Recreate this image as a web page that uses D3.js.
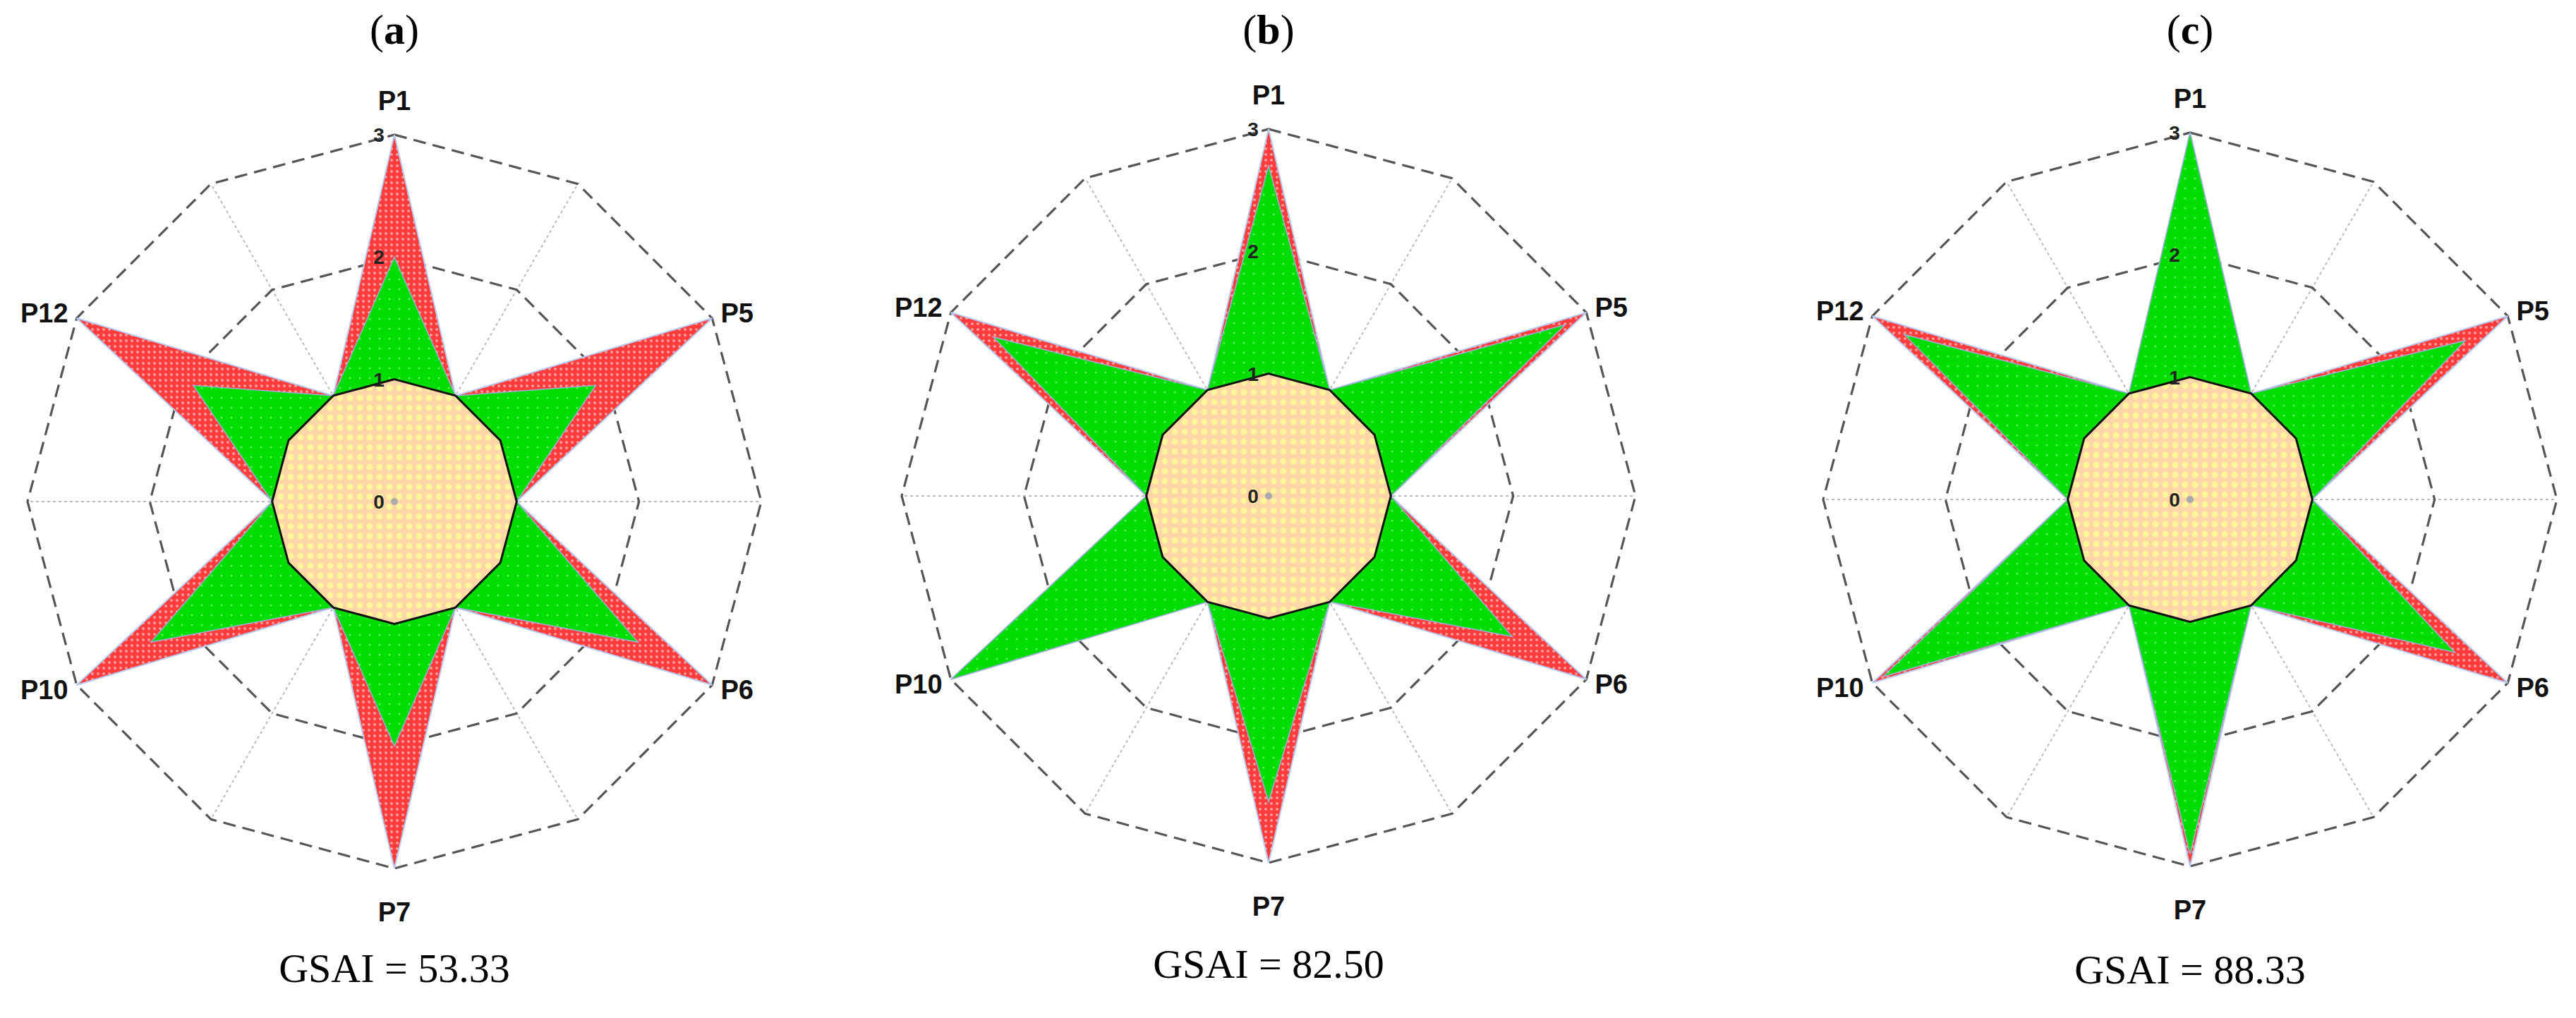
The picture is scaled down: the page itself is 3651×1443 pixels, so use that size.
<!DOCTYPE html>
<html><head><meta charset="utf-8">
<script src="https://cdn.jsdelivr.net/npm/d3@7"></script>
<style>body{margin:0;background:#fff}</style></head>
<body><svg id="c" width="3651" height="1443"></svg>
<script>
const axisLabels = ["P1","","","","P5","","P6","","P7","","","P10","","P12"].filter((d,i)=>true);
// 12 axes clockwise from top; only star-point axes carry labels
const axes = ["P1","","P5","","P6","","P7","","P10","","P12",""];
const ticks = [0,1,2,3];
const panels = ["a","b","c"];
const gsai = ["GSAI = 53.33","GSAI = 82.50","GSAI = 88.33"];
const baseline = [1,1,1,1,1,1,1,1,1,1,1,1];
const maxValues = [3,1,3,1,3,1,3,1,3,1,3,1];
const actualA = [2.0,1,1.9,1,2.3,1,2.0,1,2.3,1,1.9,1];
const actualB = [2.7,1,2.8,1,2.3,1,2.5,1,3.0,1,2.6,1];
const actualC = [3.0,1,2.6,1,2.5,1,2.9,1,2.9,1,2.7,1];
const actuals = [actualA, actualB, actualC];

const svg = d3.select("#c");
const defs = svg.append("defs");
function pat(id, bg, dot, size, r){
  const p = defs.append("pattern").attr("id",id).attr("patternUnits","userSpaceOnUse").attr("width",size).attr("height",size);
  p.append("rect").attr("width",size).attr("height",size).attr("fill",bg);
  p.append("circle").attr("cx",size/2).attr("cy",size/2).attr("r",r).attr("fill",dot);
}
pat("pRed","#ff3b3b","#ff9a9a",8,2);
pat("pGreen","#00dd00","#5cf05c",14,1.6);
pat("pOrange","#ffd6a8","#fff59a",14,4.5);

const centers = [[559,711],[1798,703],[3104,708]];
const R = 520;
const rScale = d3.scaleLinear().domain([0,3]).range([0,R]);
const ang = d3.scaleLinear().domain([0,axes.length]).range([0,2*Math.PI]);
const radial = d3.lineRadial().angle((d,i)=>ang(i)).radius(d=>rScale(d)).curve(d3.curveLinearClosed);

panels.forEach((p,k)=>{
  const [cx,cy]=centers[k];
  const g = svg.append("g").attr("transform",`translate(${cx},${cy})`);
  // spokes
  axes.forEach((a,i)=>{
    const t=ang(i);
    g.append("line").attr("x1",0).attr("y1",0)
      .attr("x2",rScale(3)*Math.sin(t)).attr("y2",-rScale(3)*Math.cos(t))
      .attr("stroke","#bbb").attr("stroke-width",2).attr("stroke-dasharray","4,4");
  });
  // grid rings
  [2,3].forEach(v=>{
    g.append("path").attr("d",radial(axes.map(()=>v))).attr("fill","none")
      .attr("stroke","#555").attr("stroke-width",3.2).attr("stroke-dasharray","18,10");
  });
  g.append("path").attr("d",radial(maxValues)).attr("fill","url(#pRed)").attr("stroke","#b8c8ee").attr("stroke-width",2);
  g.append("path").attr("d",radial(actuals[k])).attr("fill","url(#pGreen)").attr("stroke","#9fb0d8").attr("stroke-width",1.5);
  g.append("path").attr("d",radial(baseline)).attr("fill","url(#pOrange)").attr("stroke","#111").attr("stroke-width",3);
  g.append("circle").attr("r",5).attr("fill","#aaa");
  ticks.forEach(v=>{
    g.append("text").attr("x",-22).attr("y",-rScale(v)+10).attr("text-anchor","middle")
      .attr("font-family","Liberation Sans, Arial").attr("font-weight","bold").attr("font-size",28).attr("fill","#222").text(v);
  });
  axes.forEach((a,i)=>{
    if(!a) return;
    const t=ang(i), s=Math.sin(t), c=Math.cos(t);
    let x=(R+30)*s, y=-(R+30)*c, anchor="middle";
    if(Math.abs(s)>0.1){ anchor = s>0?"start":"end"; x=(R+14)*s; y=-(R+14)*c; }
    else { y = c>0 ? -(R+48) : (R+62); }
    g.append("text").attr("x",x).attr("y",y+13).attr("text-anchor",anchor)
      .attr("font-family","Liberation Sans, Arial").attr("font-weight","bold").attr("font-size",38).attr("fill","#111").text(a);
  });
  const tt = svg.append("text").attr("x",cx).attr("y",62).attr("text-anchor","middle")
    .attr("font-family","Liberation Serif, Times New Roman").attr("font-size",60).attr("fill","#000");
  tt.append("tspan").text("(");
  tt.append("tspan").attr("font-weight","bold").text(p);
  tt.append("tspan").text(")");
  svg.append("text").attr("x",cx).attr("y",[1392,1386,1394][k]).attr("text-anchor","middle")
    .attr("font-family","Liberation Serif, Times New Roman").attr("font-size",58).attr("fill","#000").text(gsai[k]);
});
</script></body></html>
